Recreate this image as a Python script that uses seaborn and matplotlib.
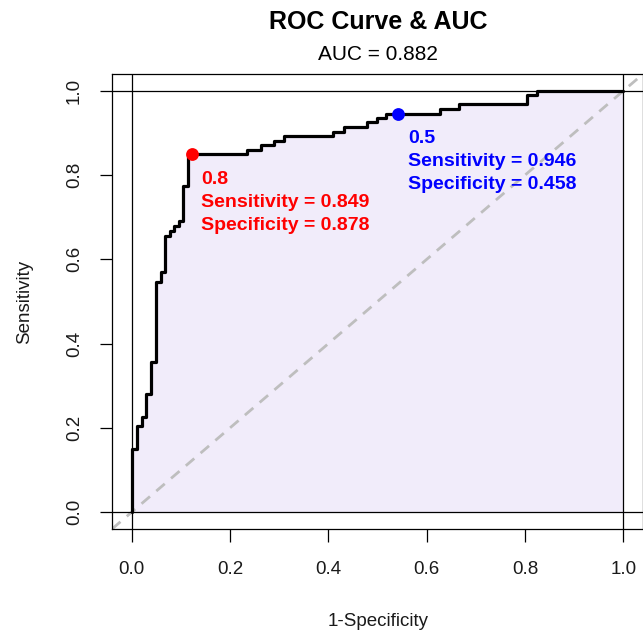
import matplotlib
matplotlib.use("Agg")
import matplotlib.pyplot as plt
import seaborn as sns
import pandas as pd

# ROC curve step vertices (1-Specificity, Sensitivity)
fpr = [0.0, 0.0, 0.011, 0.022, 0.030, 0.040, 0.049, 0.059, 0.068, 0.078, 0.087,
       0.096, 0.105, 0.114, 0.235, 0.263, 0.290, 0.310, 0.410, 0.431, 0.478,
       0.498, 0.517, 0.627, 0.665, 0.804, 0.824, 1.0]
tpr = [0.0, 0.150, 0.205, 0.226, 0.280, 0.356, 0.547, 0.570, 0.656, 0.667, 0.680,
       0.690, 0.774, 0.849, 0.860, 0.871, 0.882, 0.892, 0.903, 0.914, 0.925,
       0.935, 0.946, 0.957, 0.968, 0.989, 1.0, 1.0]

auc = 0.882
thresholds = ["0.8", "0.5"]
thr_sens = [0.849, 0.946]
thr_spec = [0.878, 0.458]
thr_colors = ["#FF0000", "#0000FF"]

ticks = [0.0, 0.2, 0.4, 0.6, 0.8, 1.0]
tick_labels = ["0.0", "0.2", "0.4", "0.6", "0.8", "1.0"]

sns.set_style("white")
plt.rcParams["font.family"] = ["Liberation Sans", "DejaVu Sans"]

fig = plt.figure(figsize=(6.43, 6.35), dpi=100)
ax = fig.add_axes([112 / 643, 1 - 529 / 635, 531 / 643, (529 - 74) / 635])

df = pd.DataFrame({"fpr": fpr, "tpr": tpr})

ax.fill_between(df["fpr"], df["tpr"], 0, step="post", color="#F1ECFA", lw=0, zorder=1)
ax.axline((0, 0), (1, 1), color="#BEBEBE", lw=2, ls=(0, (4, 3)), zorder=2)
for v in [0, 1]:
    ax.axhline(v, color="black", lw=0.9, zorder=2)
    ax.axvline(v, color="black", lw=0.9, zorder=2)

sns.lineplot(data=df, x="fpr", y="tpr", estimator=None, sort=False,
             drawstyle="steps-post", color="black", lw=2.3, ax=ax, zorder=3)

for i in range(len(thresholds)):
    x = 1 - thr_spec[i]
    y = thr_sens[i]
    c = thr_colors[i]
    ax.scatter([x], [y], s=85, color=c, zorder=4, linewidths=0)
    tx = x + 0.020
    lines = [thresholds[i], f"Sensitivity = {thr_sens[i]:.3f}",
             f"Specificity = {thr_spec[i]:.3f}"]
    for j, t in enumerate(lines):
        ax.text(tx, y - 0.060 - j * 0.0545, t, color=c, fontsize=14,
                fontweight="bold", ha="left", va="center", zorder=5)

ax.set_xlim(-0.04, 1.04)
ax.set_ylim(-0.04, 1.04)
ax.set_xticks(ticks)
ax.set_xticklabels(tick_labels)
ax.set_yticks(ticks)
ax.set_yticklabels(tick_labels, rotation=90, va="center")
ax.tick_params(axis="both", direction="out", length=9, width=0.9,
               labelsize=13.5, color="black", labelcolor="#1a1a1a",
               bottom=True, left=True)
ax.tick_params(axis="x", pad=14)
ax.tick_params(axis="y", pad=12)
for s in ax.spines.values():
    s.set_color("black")
    s.set_linewidth(0.9)
ax.set_xlabel("")
ax.set_ylabel("")

fig.text(25 / 643, 1 - 302 / 635, "Sensitivity", rotation=90, ha="center",
         va="center", fontsize=13.5, color="#1a1a1a")
fig.text(378 / 643, 1 - 621 / 635, "1-Specificity", ha="center", va="center",
         fontsize=13.5, color="#1a1a1a")
fig.text(378 / 643, 1 - 22 / 635, "ROC Curve & AUC", ha="center", va="center",
         fontsize=18, fontweight="bold", color="black")
fig.text(378 / 643, 1 - 55 / 635, f"AUC = {auc:.3f}", ha="center", va="center",
         fontsize=15, color="black")

fig.savefig("out.png", dpi=100)
